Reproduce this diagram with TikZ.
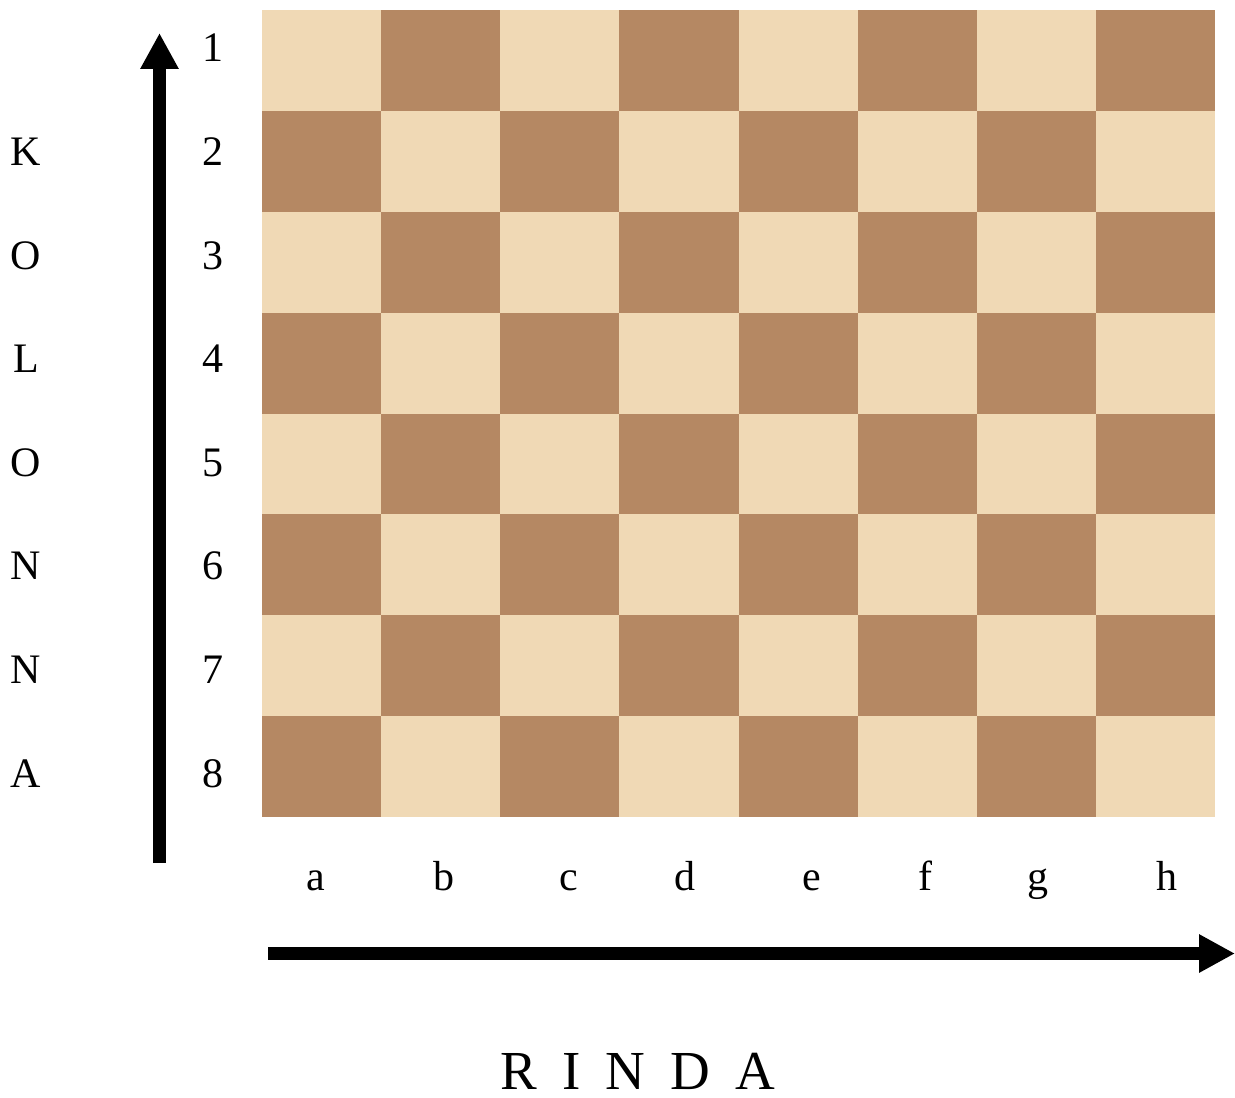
\documentclass[tikz,border=0pt]{standalone}
\usepackage{fontspec}
\setmainfont{Liberation Serif}
\usepackage{tikz}
\usetikzlibrary{arrows.meta, positioning}
\usepackage{xcolor}
\definecolor{SquareLight}{RGB}{240,217,181}
\definecolor{SquareDark}{RGB}{181,136,99}
\tikzset{
  lbl/.style={anchor=base, inner sep=0pt, font=\fontsize{21}{25}\selectfont},
  bigl/.style={anchor=base, inner sep=0pt, font=\fontsize{27.5}{31}\selectfont},
  axisarrow/.style={-{Triangle[length=18pt, width=18pt]}, line width=6.2pt, black}
}

\begin{document}
\begin{tikzpicture}[x=0.5pt, y=-0.5pt]
  \useasboundingbox (0,0) rectangle (1235,1097);

  % Board
  \foreach \r in {0,...,7}{
    \foreach \c in {0,...,7}{
      \pgfmathtruncatemacro\sq{mod(\r+\c,2)}
      \ifnum\sq=0 \def\sqcol{SquareLight}\else \def\sqcol{SquareDark}\fi
      \fill[\sqcol] ({262+\c*119.125},{10+\r*100.875}) rectangle ++(119.125,100.875);
    }
  }

  % Row numbers and KOLONNA
  \foreach \n in {1,...,8}{
    \node[lbl] (row\n) at (213,{62+(\n-1)*103.57}) {\n};
  }
  \foreach \ch [count=\i from 2] in {K,O,L,O,N,N,A}{
    \node[lbl] (kol\i) at (26,{62+(\i-1)*103.57}) {\ch};
  }

  % Column letters
  \foreach \ch/\xx in {a/316, b/444, c/569, d/685, e/812, f/925, g/1038, h/1167}{
    \node[lbl] (col-\ch) at (\xx,890) {\ch};
  }

  % Arrows
  \coordinate (vtail) at (159.5,863);
  \coordinate (vtip)  at (159.5,33);
  \coordinate (htail) at (268,953.5);
  \coordinate (htip)  at (1235,953.5);
  \draw[axisarrow] (vtail) -- (vtip);
  \draw[axisarrow] (htail) -- (htip);

  % RINDA
  \node[bigl] (rinda) at (638,1089)
    {R\hspace{12.5pt}I\hspace{12.5pt}N\hspace{12.5pt}D\hspace{12.5pt}A};

\end{tikzpicture}
\end{document}
